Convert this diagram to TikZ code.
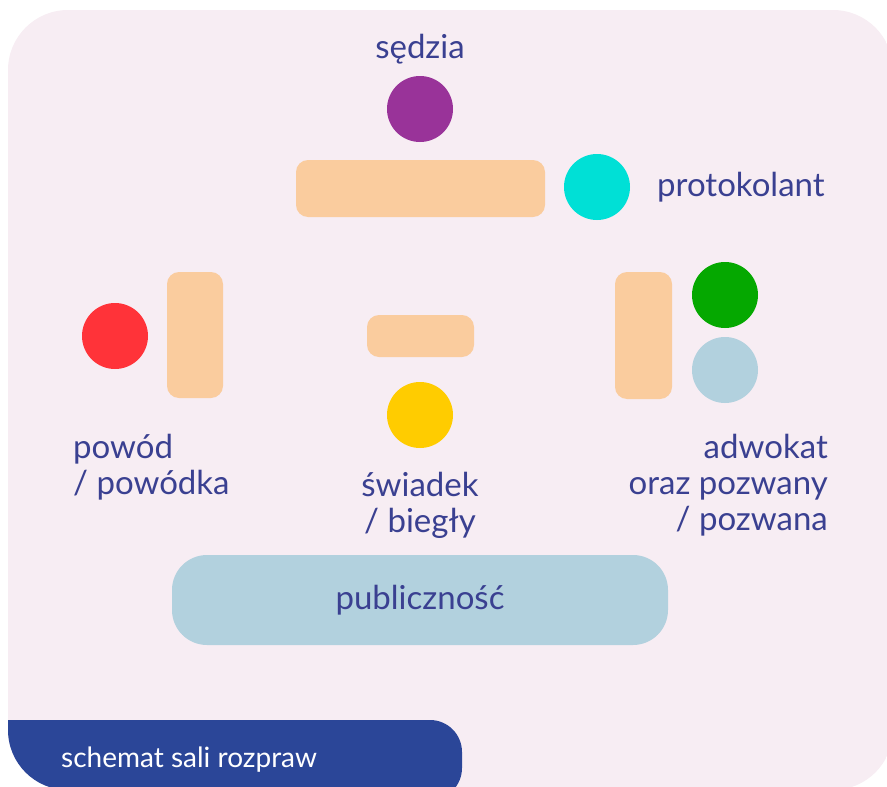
\documentclass[tikz,border=0pt]{standalone}
\usepackage{fontspec}
\setmainfont{Lato}
\definecolor{bgpink}{RGB}{247,237,243}
\definecolor{navy}{RGB}{43,70,152}
\definecolor{txt}{RGB}{58,64,145}
\definecolor{tablec}{RGB}{250,204,158}
\definecolor{cpurple}{RGB}{153,51,153}
\definecolor{ccyan}{RGB}{0,224,214}
\definecolor{cred}{RGB}{255,51,57}
\definecolor{cyellow}{RGB}{255,204,0}
\definecolor{cgreen}{RGB}{5,168,0}
\definecolor{clblue}{RGB}{178,209,222}
\tikzset{
  person/.style={circle, fill=#1, minimum size=66pt, inner sep=0pt},
  tablebox/.style={fill=tablec, rounded corners=12pt, inner sep=0pt},
  lbl/.style={text=txt, font=\fontsize{33}{36}\selectfont, inner sep=0pt},
}
\begin{document}
\begin{tikzpicture}[x=1pt,y=-1pt]
\useasboundingbox (0,0) rectangle (887,787);
\clip (0,0) rectangle (887,787);
\begin{scope}
\clip[rounded corners=60pt] (8,10) rectangle (893,790);
\fill[bgpink] (0,0) rectangle (900,800);
\fill[navy] (8,720) [rounded corners=32pt] -- (462,720) -- (462,800) [sharp corners] -- (0,800) -- (0,720) -- cycle;
\end{scope}
% tables
\node[tablebox, minimum width=249pt, minimum height=57pt] (tjudge) at (420.5,188.5) {};
\node[tablebox, minimum width=56pt, minimum height=126pt] (tleft) at (195,335) {};
\node[tablebox, minimum width=107pt, minimum height=42pt] (tmid) at (420.5,336) {};
\node[tablebox, minimum width=57pt, minimum height=127pt] (tright) at (643.5,335.5) {};
\node[fill=clblue, rounded corners=35pt, minimum width=496pt, minimum height=90pt, inner sep=0pt] (pub) at (420,600) {};
% people
\node[person=cpurple] (judge) at (420,109) {};
\node[person=ccyan] (clerk) at (597,187) {};
\node[person=cred] (plaintiff) at (115,336) {};
\node[person=cyellow] (witness) at (420,415) {};
\node[person=cgreen] (lawyer) at (725,295) {};
\node[person=clblue] (defendant) at (725,370) {};
% labels
\node[lbl, anchor=base] (ljudge) at (420,58) {sędzia};
\node[lbl, anchor=base west] (lclerk) at (657,196) {protokolant};
\node[lbl, anchor=base] (lpub) at (420,609) {publiczność};
\node[lbl, align=left, anchor=base west] (lplaintiff) at (73,494) {powód\\/ powódka};
\node[lbl, align=center, anchor=base] (lwitness) at (420,532) {świadek\\/ biegły};
\node[lbl, align=right, anchor=base east] (llawyer) at (828,530) {adwokat\\oraz pozwany\\/ pozwana};
\node[text=white, font=\fontsize{28}{32}\selectfont, inner sep=0pt, anchor=base west] (title) at (61,767) {schemat sali rozpraw};
\end{tikzpicture}
\end{document}
